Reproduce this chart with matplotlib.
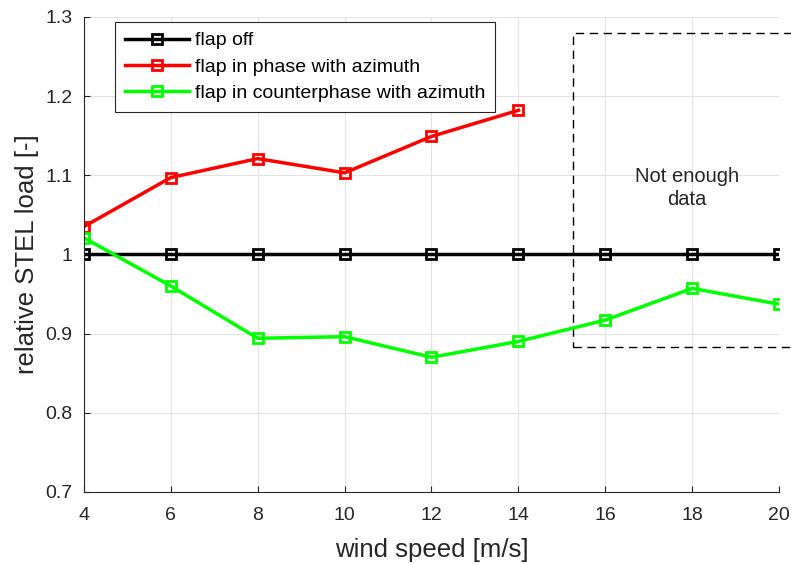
import matplotlib.pyplot as plt
from matplotlib.patches import Rectangle
import numpy as np

plt.rcParams['font.family'] = ['Liberation Sans', 'DejaVu Sans']

wind = [4, 6, 8, 10, 12, 14, 16, 18, 20]
flap_off = [1.0, 1.0, 1.0, 1.0, 1.0, 1.0, 1.0, 1.0, 1.0]
wind_phase = [4, 6, 8, 10, 12, 14]
flap_phase = [1.035, 1.097, 1.121, 1.103, 1.149, 1.182]
flap_counter = [1.021, 0.960, 0.894, 0.896, 0.870, 0.890, 0.917, 0.957, 0.937]

fig = plt.figure(figsize=(7.91, 5.64), dpi=100)
ax = fig.add_axes([0.106, 0.128, 0.879, 0.842])

mk = dict(marker='s', markersize=7.5, markerfacecolor='none', markeredgewidth=2, linewidth=2.5)
ax.plot(wind, flap_off, color='k', label='flap off', **mk)
ax.plot(wind_phase, flap_phase, color='#ff0000', label='flap in phase with azimuth', **mk)
ax.plot(wind, flap_counter, color='#00ff00', label='flap in counterphase with azimuth', **mk)

# not enough data box
ax.add_patch(Rectangle((15.26, 0.883), 5.5, 0.397, fill=False, linestyle=(0, (6, 4)),
                       edgecolor='k', linewidth=1, clip_on=False))
ax.text(17.88, 1.084, 'Not enough\ndata', ha='center', va='center', fontsize=14.5,
        color='#262626', linespacing=1.25)

ax.set_xlim(4, 20)
ax.set_ylim(0.7, 1.3)
ax.set_xticks(np.arange(4, 21, 2))
ax.set_yticks([0.7, 0.8, 0.9, 1.0, 1.1, 1.2, 1.3])
ax.set_yticklabels(['0.7', '0.8', '0.9', '1', '1.1', '1.2', '1.3'])
ax.grid(True, color='#e3e3e3', linewidth=0.8)
ax.set_axisbelow(True)
for s in ['top', 'right']:
    ax.spines[s].set_visible(False)
for s in ['left', 'bottom']:
    ax.spines[s].set_color('#262626')
ax.tick_params(direction='in', length=4, colors='#262626', labelsize=14)
ax.tick_params(axis='x', pad=11)
ax.tick_params(axis='y', pad=8)
ax.set_xlabel('wind speed [m/s]', fontsize=18.5, color='#262626', labelpad=10)
ax.set_ylabel('relative STEL load [-]', fontsize=18.5, color='#262626', labelpad=5)

leg = ax.legend(loc='upper left', bbox_to_anchor=(0.0446, 0.989), fontsize=14, fancybox=False,
                edgecolor='#262626', framealpha=1, handlelength=3.3, borderpad=0.5,
                labelspacing=0.45, handletextpad=0.3, borderaxespad=0)
leg.get_frame().set_linewidth(0.8)

fig.savefig('out.png', dpi=100)
